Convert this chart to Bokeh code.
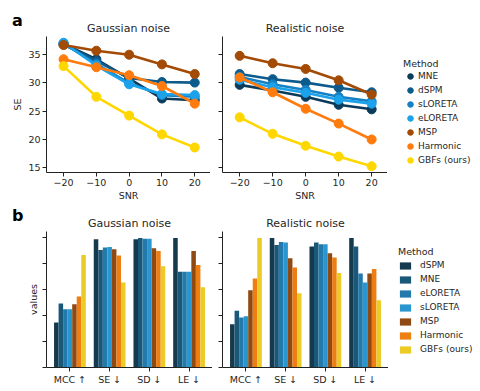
from bokeh.plotting import figure
from bokeh.models import (ColumnDataSource, Range1d, FactorRange, FixedTicker, Legend, LegendItem,
                          CustomJSTickFormatter, Div)
from bokeh.layouts import row, column
from bokeh.transform import dodge
from bokeh.embed import file_html
from bokeh.resources import INLINE

NAN = float("nan")

# ---------------- data: panel a (SE vs SNR) ----------------
snr = [-20, -10, 0, 10, 20]
methods_a = ["MNE", "dSPM", "sLORETA", "eLORETA", "MSP", "Harmonic", "GBFs (ours)"]

gauss_mne = [36.8, 34.1, 30.7, 27.2, 26.9]
gauss_dspm = [36.7, 33.8, 30.8, 30.1, 30.0]
gauss_sloreta = [36.9, 33.3, 29.9, 27.8, 27.5]
gauss_eloreta = [37.0, 33.0, 29.7, 28.0, 27.8]
gauss_msp = [36.6, 35.6, 34.9, 33.2, 31.5]
gauss_harmonic = [34.1, 32.7, 31.3, 29.4, 26.3]
gauss_gbf = [32.9, 27.5, 24.2, 20.9, 18.6]

real_mne = [29.6, 28.6, 27.5, 26.1, 25.3]
real_dspm = [31.5, 30.6, 30.0, 29.1, 28.3]
real_sloreta = [31.0, 29.7, 28.7, 27.5, 26.7]
real_eloreta = [30.5, 29.2, 28.2, 27.0, 26.3]
real_msp = [34.7, 33.4, 32.4, 30.4, 27.9]
real_harmonic = [30.9, 28.3, 25.4, 22.8, 20.0]
real_gbf = [23.9, 21.0, 18.9, 17.0, 15.3]

se_ticks = [15, 20, 25, 30, 35]

# ---------------- data: panel b (normalised metrics) ----------------
metrics = ["MCC ↑", "SE ↓", "SD ↓", "LE ↓"]
methods_b = ["dSPM", "MNE", "eLORETA", "sLORETA", "MSP", "Harmonic", "GBFs (ours)"]

gb_dspm = [0.346, 0.987, 0.987, 0.997]
gb_mne = [0.492, 0.905, 0.997, 0.738]
gb_eloreta = [0.449, 0.923, 0.992, 0.738]
gb_sloreta = [0.449, 0.928, 0.992, 0.738]
gb_msp = [0.487, 0.910, 0.918, 0.897]
gb_harmonic = [0.546, 0.862, 0.897, 0.790]
gb_gbf = [0.867, 0.654, 0.779, 0.618]

rb_dspm = [0.333, 0.997, 0.931, 0.997]
rb_mne = [0.436, 0.944, 0.962, 0.931]
rb_eloreta = [0.385, 0.967, 0.949, 0.723]
rb_sloreta = [0.395, 0.962, 0.949, 0.654]
rb_msp = [0.595, 0.841, 0.879, 0.723]
rb_harmonic = [0.685, 0.769, 0.846, 0.759]
rb_gbf = [0.997, 0.572, 0.728, 0.518]

value_ticks = [0.0, 0.2, 0.4, 0.6, 0.8, 1.0]

# ---------------- styles ----------------
line_colors = ["#0b3b5a", "#0d5b8c", "#1580c4", "#1ca2ea", "#a34a04", "#ff7b0e", "#ffd700"]
bar_colors = ["#15394f", "#1a5878", "#2379ab", "#2a96d0", "#8e4a12", "#ee7d12", "#eccb26"]
FONT = "DejaVu Sans"
TXT = "#262626"

A_TOP, A_FH, A_BOT = 36, 137, 30
B_TOP, B_FH, B_BOT = 28, 136, 20


def style_axes(p, show_ylabels=True):
    p.outline_line_color = None
    p.border_fill_color = None
    p.grid.visible = False
    for ax in p.xaxis + p.yaxis:
        ax.axis_line_color = "#222222"
        ax.major_tick_line_color = "#222222"
        ax.major_tick_out = 4
        ax.major_tick_in = 0
        ax.minor_tick_line_color = None
        ax.major_label_text_font = FONT
        ax.major_label_text_font_size = "9.5px"
        ax.major_label_text_color = TXT
        ax.axis_label_text_font = FONT
        ax.axis_label_text_font_size = "9.5px"
        ax.axis_label_text_font_style = "normal"
        ax.axis_label_text_color = TXT
        ax.major_label_standoff = 2
    if not show_ylabels:
        p.yaxis.formatter = CustomJSTickFormatter(code="return ''")
        p.yaxis.major_label_standoff = 0
    p.title.text_font = FONT
    p.title.text_font_size = "11px"
    p.title.text_font_style = "normal"
    p.title.text_color = TXT
    p.title.align = "center"
    p.title.standoff = 3


def style_legend(leg):
    leg.padding = 0
    leg.margin = 0
    leg.label_text_font = FONT
    leg.label_text_font_size = "9px"
    leg.label_text_color = TXT
    leg.title_text_font = FONT
    leg.title_text_font_size = "9.5px"
    leg.title_text_font_style = "normal"
    leg.title_text_color = TXT
    leg.border_line_color = None
    leg.background_fill_alpha = 0


def legend_fig(width, top, fh, bot):
    p = figure(width=width, height=top + fh + bot, output_backend="svg", toolbar_location=None,
               x_axis_type=None, y_axis_type=None,
               min_border_left=0, min_border_top=top, min_border_right=0, min_border_bottom=bot,
               x_range=Range1d(0, 1), y_range=Range1d(0, 1))
    p.outline_line_color = None
    p.border_fill_color = None
    p.background_fill_color = None
    p.grid.visible = False
    return p


def line_panel(title, series, left):
    bl, fw = (38, 164) if left else (12, 165)
    p = figure(width=bl + fw, height=A_TOP + A_FH + A_BOT,
               x_range=Range1d(-25.2, 24.8), y_range=Range1d(14.2, 38.1),
               title=title, output_backend="svg", toolbar_location=None,
               min_border_left=bl, min_border_right=0,
               min_border_top=A_TOP, min_border_bottom=A_BOT)
    for vals, col in zip(series, line_colors):
        src = ColumnDataSource(dict(x=snr, y=vals))
        p.line("x", "y", source=src, line_color=col, line_width=2.6)
        p.scatter("x", "y", source=src, size=9, fill_color=col, line_color=col)
    p.xaxis.ticker = FixedTicker(ticks=snr)
    p.yaxis.ticker = FixedTicker(ticks=se_ticks)
    p.xaxis.axis_label = "SNR"
    p.xaxis.axis_label_standoff = 1
    if left:
        p.yaxis.axis_label = "SE"
    style_axes(p, left)
    if left:
        p.yaxis.axis_label_standoff = 2
    return p


def line_legend():
    p = legend_fig(92, A_TOP, A_FH, A_BOT)
    items = []
    for name, col in zip(methods_a, line_colors):
        r = p.scatter(x=[NAN], y=[NAN], size=9, fill_color=col, line_color=col)
        items.append(LegendItem(label=name, renderers=[r]))
    leg = Legend(items=items, title="Method", location=(16, 5))
    leg.glyph_width = 14
    leg.glyph_height = 14
    leg.label_height = 14
    leg.spacing = 0
    leg.label_standoff = 1
    leg.title_standoff = 0
    style_legend(leg)
    p.add_layout(leg)
    return p


def bar_panel(title, series, left):
    bl, fw = (38, 166) if left else (10, 166)
    p = figure(width=bl + fw, height=B_TOP + B_FH + B_BOT,
               x_range=FactorRange(factors=metrics, range_padding=0.045, range_padding_units="percent"),
               y_range=Range1d(0, 1.047),
               title=title, output_backend="svg", toolbar_location=None,
               min_border_left=bl, min_border_right=0,
               min_border_top=B_TOP, min_border_bottom=B_BOT)
    data = dict(metric=metrics)
    keys = []
    for i, vals in enumerate(series):
        k = "m%d" % i
        data[k] = vals
        keys.append(k)
    src = ColumnDataSource(data)
    w = 0.8 / len(methods_b)
    for i, (k, col) in enumerate(zip(keys, bar_colors)):
        off = (i - (len(methods_b) - 1) / 2) * w
        p.vbar(x=dodge("metric", off, range=p.x_range), top=k, width=w, source=src,
               fill_color=col, line_color=None)
    p.yaxis.ticker = FixedTicker(ticks=value_ticks)
    if left:
        p.yaxis.axis_label = "values"
    style_axes(p, False)
    if left:
        p.yaxis.axis_label_standoff = 4
    return p


def bar_legend():
    p = legend_fig(91, B_TOP, B_FH, B_BOT)
    items = []
    for name, col in zip(methods_b, bar_colors):
        r = p.vbar(x=[NAN], top=[NAN], width=0.1, fill_color=col, line_color=None)
        items.append(LegendItem(label=name, renderers=[r]))
    leg = Legend(items=items, title="Method", location=(10, 13))
    leg.glyph_width = 14
    leg.glyph_height = 9
    leg.label_height = 10
    leg.spacing = 4
    leg.label_standoff = 8
    leg.title_standoff = 3
    style_legend(leg)
    p.add_layout(leg)
    return p


a1 = line_panel("Gaussian noise",
                [gauss_mne, gauss_dspm, gauss_sloreta, gauss_eloreta, gauss_msp, gauss_harmonic, gauss_gbf],
                True)
a2 = line_panel("Realistic noise",
                [real_mne, real_dspm, real_sloreta, real_eloreta, real_msp, real_harmonic, real_gbf],
                False)
la = line_legend()
b1 = bar_panel("Gaussian noise",
               [gb_dspm, gb_mne, gb_eloreta, gb_sloreta, gb_msp, gb_harmonic, gb_gbf],
               True)
b2 = bar_panel("Realistic noise",
               [rb_dspm, rb_mne, rb_eloreta, rb_sloreta, rb_msp, rb_harmonic, rb_gbf],
               False)
lb = bar_legend()


def panel_label(txt, pad_top):
    st = {"font-family": "DejaVu Sans", "font-size": "16px", "font-weight": "bold",
          "line-height": "1", "overflow": "visible", "white-space": "nowrap",
          "text-indent": "12px", "padding-top": "%dpx" % pad_top, "color": "#000000",
          "z-index": "5"}
    return Div(text=txt, width=8, height=30, margin=0, styles=st)


div_a = panel_label("a", 13)
div_b = panel_label("b", 5)

layout = column(row(div_a, a1, a2, la), row(div_b, b1, b2, lb))
open("out.html", "w").write(file_html(layout, INLINE))
